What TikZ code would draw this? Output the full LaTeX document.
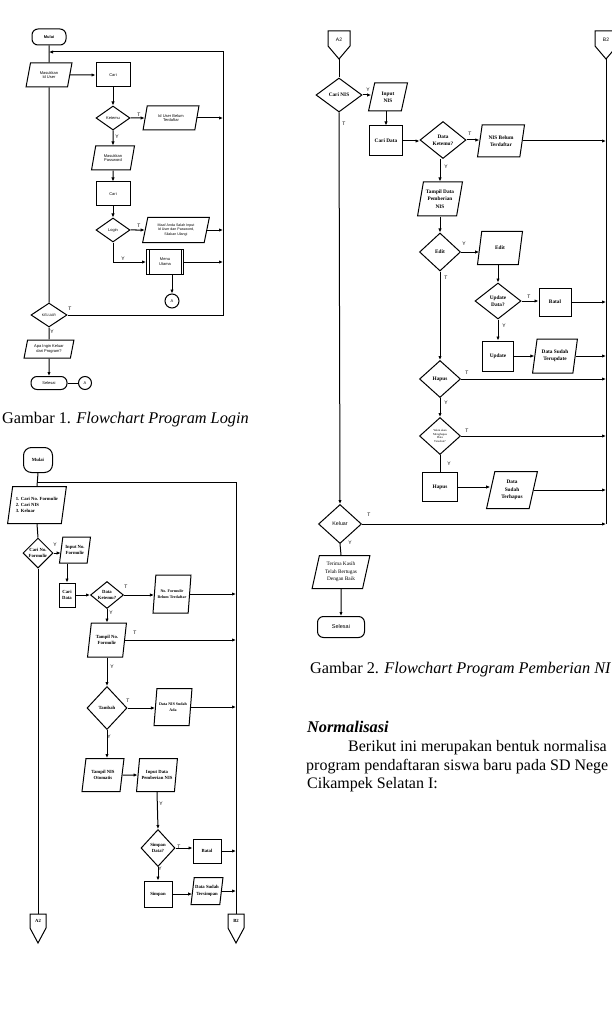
\documentclass[tikz,border=0pt]{standalone}
\usepackage{fontspec}
\setmainfont{Liberation Serif}
\newfontfamily\sansf{Liberation Sans}
\usetikzlibrary{shapes.geometric,arrows.meta,calc}
\newcommand{\fsA}{\sansf\fontsize{4}{4.8}\selectfont}
\newcommand{\fsB}{\bfseries\fontsize{4.7}{6.3}\selectfont}
\newcommand{\fsC}{\bfseries\fontsize{5.3}{7.3}\selectfont}
\newcommand{\fsT}{\fontsize{3}{3.6}\selectfont}
\newcommand{\fsL}{\sansf\fontsize{5}{6}\selectfont}
\newcommand{\fsBig}{\fontsize{16.3}{18.5}\selectfont}
\newcommand{\fsPar}{\fontsize{16}{18.5}\selectfont}
\begin{document}
\begin{tikzpicture}[x=1pt,y=-1pt,
  base/.style={draw, line width=1pt, inner sep=0.4pt, align=center},
  term/.style={base, rectangle, rounded corners=6pt},
  proc/.style={base, rectangle},
  dec/.style={base, diamond, aspect=1.2},
  io/.style={base, trapezium, trapezium left angle=75, trapezium right angle=105, trapezium stretches=true},
  conn/.style={base, circle},
  sz/.style 2 args={minimum width=#1, minimum height=#2},
  ln/.style={line width=1pt},
  arr/.style={line width=1pt, -{Latex[length=4pt,width=3.4pt]}},
  lbl/.style={font=\fsL, inner sep=0},
  txt/.style={font=\fsBig, inner sep=0, anchor=base west},
  ptxt/.style={font=\fsPar, inner sep=0, anchor=base west}]
\useasboundingbox[fill=white] (0,0) rectangle (612,1016);

% ================= Flowchart 1 =================
\begin{scope}[every node/.append style={font=\fsA}]
\node[term, sz={34}{16}, font=\fsA\bfseries] (f1mulai) at (49,37) {Mulai};
\node[io, sz={46}{24}] (f1in) at (49,75) {Masukkan\\Id User};
\node[proc, sz={34}{24}] (f1cari) at (113,75) {Cari};
\node[dec, sz={34}{24}] (f1ket) at (113,118) {Ketemu};
\node[io, sz={56}{24}] (f1blm) at (171,118) {Id User Belum\\Terdaftar};
\node[io, sz={43}{24}] (f1pw) at (113,158) {Masukkan\\Password};
\node[proc, sz={34}{24}] (f1cari2) at (113,194) {Cari};
\node[dec, sz={34}{24}] (f1login) at (113,230) {Login};
\node[io, sz={67}{25}, font=\sansf\fontsize{3.6}{4.3}\selectfont] (f1maaf) at (176,230) {Maaf Anda Salah Input\\Id User dan Password,\\Silakan Ulangi};
\node[proc, sz={37}{25}] (f1menu) at (165,262) {Menu\\Utama};
\node[conn, minimum size=14] (f1a) at (172,301) {A};
\node[dec, sz={36}{24}, font=\sansf\fontsize{3.5}{4}\selectfont] (f1kel) at (49,315) {KELUAR};
\node[io, sz={50}{18}] (f1apa) at (49,349) {Apa Ingin Keluar\\dari Program?};
\node[term, sz={36}{13}] (f1sel) at (49,383) {Selesai};
\node[conn, minimum size=13] (f1a2) at (85,383) {A};
\end{scope}
\coordinate (f1j) at (49,52);
\coordinate (f1rt) at (223,52);
\coordinate (f1rb) at (223,316);
\draw[ln] ([xshift=3pt]f1menu.north west) -- ([xshift=3pt]f1menu.south west);
\draw[ln] ([xshift=-3pt]f1menu.north east) -- ([xshift=-3pt]f1menu.south east);

\draw[ln] (f1mulai.south) -- (f1in.north);
\draw[arr] (f1kel.east) -- (f1kel.east -| f1rb) -- (f1rt) -- (f1j);
\draw[ln] (f1in.south) -- (f1kel.north);
\draw[arr] (f1in.east) -- (f1cari.west);
\draw[arr] (f1cari.south) -- (f1ket.north);
\draw[arr] (f1ket.east) -- (f1blm.west);
\draw[arr] (f1blm.east) -- (f1blm.east -| f1rt);
\draw[arr] (f1ket.south) -- (f1pw.north);
\draw[arr] (f1pw.south) -- (f1cari2.north);
\draw[arr] (f1cari2.south) -- (f1login.north);
\draw[arr] (f1login.east) -- (f1maaf.west);
\draw[arr] (f1maaf.east) -- (f1maaf.east -| f1rt);
\draw[arr] (f1login.south) |- (f1menu.west);
\draw[arr] (f1menu.east) -- (f1menu.east -| f1rt);
\draw[arr] (f1menu.south -| f1a) -- (f1a.north);
\draw[ln] (f1kel.south) -- (f1apa.north);
\draw[arr] (f1apa.south) -- (f1sel.north);
\draw[ln] (f1sel.east) -- (f1a2.west);
\node[lbl] (l1a) at (139,115) {T};
\node[lbl] (l1b) at (117,137) {Y};
\node[lbl] (l1c) at (139,226) {T};
\node[lbl] (l1d) at (123,259) {Y};
\node[lbl] (l1e) at (70,309) {T};
\node[lbl] (l1f) at (52,332) {Y};

\node[txt] (cap1) at (2,423) {Gambar 1. \textit{Flowchart Program Login}};

% ================= Flowchart 2 =================
\begin{scope}[every node/.append style={font=\fsB}]
\node[term, sz={29}{25}, rounded corners=8pt] (f2mulai) at (38,460) {Mulai};
\node[io, sz={59}{37}, align=left] (f2menu) at (37,505) {1. Cari No. Formulir\\2. Cari NIS\\3. Keluar};
\node[dec, sz={30}{30}, aspect=1] (f2cari) at (38,553) {Cari No.\\Formulir};
\node[io, sz={31}{26}] (f2inp) at (75,550) {Input No.\\Formulir};
\node[proc, sz={16}{24}] (f2cd) at (67,595) {Cari\\Data};
\node[dec, sz={33}{27}] (f2ket) at (107,595) {Data\\Ketemu?};
\node[io, sz={38}{38}, font=\bfseries\fontsize{4}{6}\selectfont] (f2blm) at (172,594) {No. Formulir\\Belum Terdaftar};
\node[io, sz={39}{34}] (f2tam) at (107,640) {Tampil No.\\Formulir};
\node[dec, sz={40}{43}, aspect=1] (f2tbh) at (107,708) {Tambah};
\node[io, sz={38}{37}, font=\bfseries\fontsize{4}{6}\selectfont] (f2ada) at (173,707) {Data NIS Sudah\\Ada};
\node[io, sz={42}{33}] (f2oto) at (103,775) {Tampil NIS\\Otomatis};
\node[io, sz={41}{33}] (f2ipn) at (157,775) {Input Data\\Pemberian NIS};
\node[dec, sz={34}{37}, aspect=1] (f2smp) at (158,848) {Simpan\\Data?};
\node[proc, sz={28}{24}] (f2btl) at (207,851) {Batal};
\node[proc, sz={28}{26}] (f2spn) at (158,894) {Simpan};
\node[io, sz={32}{27}] (f2tsp) at (207,891) {Data Sudah\\Tersimpan};
\node[inner sep=0] (f2a2) at (38,921) {A2};
\node[inner sep=0] (f2b2) at (236,921) {B2};
\end{scope}
\draw[ln] (30,914) -- (46,914) -- (46,928) -- (38,943) -- (30,928) -- cycle;
\draw[ln] (228,914) -- (244,914) -- (244,928) -- (236,943) -- (228,928) -- cycle;
\coordinate (f2a2t) at (38,914);
\coordinate (f2b2t) at (236,914);
\coordinate (f2j) at (38,482);
\coordinate (f2rt) at (236,482);

\draw[ln] (f2mulai.south) -- (f2menu.north);
\draw[ln] (f2j) -- (f2rt) -- (f2b2t);
\draw[ln] (f2menu.south) -- (f2cari.north);
\draw[ln] (f2cari.south) -- (f2a2t);
\draw[arr] (f2cari.east) -- (f2cari.east -| f2inp.west);
\draw[arr] (f2inp.south -| f2cd) -- (f2cd.north);
\draw[arr] (f2cd.east) -- (f2ket.west);
\draw[arr] (f2ket.east) -- (f2ket.east -| f2blm.west);
\draw[arr] (f2blm.east) -- (f2blm.east -| f2rt);
\draw[arr] (f2ket.south) -- (f2tam.north);
\draw[arr] (f2tam.east) -- (f2tam.east -| f2rt);
\draw[arr] (f2tam.south) -- (f2tbh.north);
\draw[arr] (f2tbh.east) -- (f2tbh.east -| f2ada.west);
\draw[arr] (f2ada.east) -- (f2ada.east -| f2rt);
\draw[arr] (f2tbh.south) -- (f2tbh.south |- f2oto.north);
\draw[arr] (f2oto.east) -- (f2ipn.west);
\draw[arr] (f2ipn.south) -- (f2smp.north);
\draw[arr] (f2smp.east) -- (f2smp.east -| f2btl.west);
\draw[arr] (f2btl.east) -- (f2btl.east -| f2rt);
\draw[arr] (f2smp.south) -- (f2spn.north);
\draw[arr] (f2spn.east) -- (f2spn.east -| f2tsp.west);
\draw[arr] (f2tsp.east) -- (f2tsp.east -| f2rt);
\node[lbl] (l2a) at (55,545) {Y};
\node[lbl] (l2b) at (126,587) {T};
\node[lbl] (l2c) at (111,613) {Y};
\node[lbl] (l2d) at (135,633) {T};
\node[lbl] (l2e) at (112,667) {Y};
\node[lbl] (l2f) at (128,701) {T};
\node[lbl] (l2g) at (109,737) {Y};
\node[lbl] (l2h) at (161,804) {Y};
\node[lbl] (l2i) at (179,847) {T};
\node[lbl] (l2j) at (160,869) {Y};

% ================= Flowchart 3 =================
\begin{scope}[every node/.append style={font=\fsC}]
\node[inner sep=0, font=\sansf\fontsize{5}{6}\selectfont] (f3a2) at (339,40) {A2};
\node[inner sep=0, font=\sansf\fontsize{5}{6}\selectfont] (f3b2) at (606,40) {B2};
\node[dec, sz={46}{34}] (f3cari) at (339,95) {Cari NIS};
\node[io, sz={39}{28}] (f3inp) at (388,97) {Input\\NIS};
\node[proc, sz={33}{30}] (f3cd) at (386,141) {Cari Data};
\node[dec, sz={46}{37}] (f3ket) at (443,140) {Data\\Ketemu?};
\node[io, sz={47}{32}] (f3blm) at (501,141) {NIS Belum\\Terdaftar};
\node[io, sz={45}{34}] (f3tam) at (440,199) {Tampil Data\\Pemberian\\NIS};
\node[dec, sz={41}{38}] (f3edit) at (440,252) {Edit};
\node[io, sz={45}{33}] (f3editp) at (500,248) {Edit};
\node[dec, sz={46}{36}] (f3upd) at (498,301) {Update\\Data?};
\node[proc, sz={32}{28}] (f3btl) at (555,302) {Batal};
\node[proc, sz={31}{30}] (f3updb) at (498,356) {Update};
\node[io, sz={45}{34}] (f3tru) at (555,356) {Data Sudah\\Terupdate};
\node[dec, sz={41}{37}] (f3hps) at (440,379) {Hapus};
\node[dec, sz={41}{37}, font=\fsT] (f3ykn) at (440,436) {Yakin akan\\Menghapus\\Data\\Tersebut?};
\node[proc, sz={35}{29}] (f3hpsb) at (440,487) {Hapus};
\node[io, sz={51}{37}] (f3trh) at (512,490) {Data\\Sudah\\Terhapus};
\node[dec, sz={43}{39}, font=\sansf\fontsize{5.3}{6}\selectfont] (f3kel) at (340,524) {Keluar};
\node[io, sz={58}{33}, font=\fontsize{5.3}{7.5}\selectfont] (f3trm) at (341,572) {Terima Kasih\\Telah Bertugas\\Dengan Baik};
\node[term, sz={47}{21}, font=\sansf\fontsize{5.5}{6}\selectfont] (f3sel) at (341,627) {Selesai};
\end{scope}
\draw[ln] (328,31) -- (350,31) -- (350,46) -- (339,59) -- (328,46) -- cycle;
\draw[ln] (595,31) -- (617,31) -- (617,46) -- (606,59) -- (595,46) -- cycle;
\coordinate (f3a2t) at (339,59);
\coordinate (f3b2t) at (606,59);
\coordinate (f3rb) at (606,524);

\draw[ln] (f3a2t) -- (f3cari.north);
\draw[ln] (f3b2t) -- (f3rb);
\draw[arr] (f3cari.east) -- (f3cari.east -| f3inp.west);
\draw[arr] (f3inp.south -| f3cd) -- (f3cd.north);
\draw[arr] (f3cd.east) -- (f3cd.east -| f3ket.west);
\draw[arr] (f3ket.east) -- (f3ket.east -| f3blm.west);
\draw[arr] (f3blm.east) -- (f3blm.east -| f3rb);
\draw[arr] (f3ket.south -| f3tam) -- (f3tam.north);
\draw[arr] (f3tam.south) -- (f3edit.north);
\draw[arr] (f3edit.east) -- (f3edit.east -| f3editp.west);
\draw[arr] (f3editp.south -| f3upd) -- (f3upd.north);
\draw[arr] (f3upd.east) -- (f3upd.east -| f3btl.west);
\draw[arr] (f3btl.east) -- (f3btl.east -| f3rb);
\draw[arr] (f3upd.south) -- (f3updb.north);
\draw[arr] (f3updb.east) -- (f3updb.east -| f3tru.west);
\draw[arr] (f3tru.east) -- (f3tru.east -| f3rb);
\draw[arr] (f3edit.south) -- (f3hps.north);
\draw[arr] (f3hps.east) -- (f3hps.east -| f3rb);
\draw[arr] (f3hps.south) -- (f3ykn.north);
\draw[arr] (f3ykn.east) -- (f3ykn.east -| f3rb);
\draw[ln] (f3ykn.south) -- (f3hpsb.north);
\draw[arr] (f3hpsb.east) -- (f3hpsb.east -| f3trh.west);
\draw[arr] (f3trh.east) -- (f3trh.east -| f3rb);
\draw[arr] (f3cari.south) -- (f3kel.north);
\draw[arr] (f3kel.east) -- (f3rb);
\draw[ln] (f3kel.south) -- (f3trm.north);
\draw[arr] (f3trm.south) -- (f3sel.north);
\node[lbl] (l3a) at (368,90) {Y};
\node[lbl] (l3b) at (344,124) {T};
\node[lbl] (l3c) at (470,134) {T};
\node[lbl] (l3d) at (446,167) {Y};
\node[lbl] (l3e) at (464,244) {Y};
\node[lbl] (l3f) at (529,297) {T};
\node[lbl] (l3g) at (504,326) {Y};
\node[lbl] (l3h) at (446,278) {T};
\node[lbl] (l3i) at (467,373) {T};
\node[lbl] (l3j) at (446,403) {Y};
\node[lbl] (l3k) at (467,431) {T};
\node[lbl] (l3l) at (449,464) {Y};
\node[lbl] (l3m) at (369,515) {T};
\node[lbl] (l3n) at (350,543) {Y};

% ================= Text =================
\node[txt] (cap2) at (310,673) {Gambar 2. \textit{Flowchart Program Pemberian NI}};
\node[txt] (head) at (307,732) {\textbf{\textit{Normalisasi}}};
\node[ptxt] (p1) at (348,751) {Berikut ini merupakan bentuk normalisa};
\node[ptxt] (p2) at (306,770) {program pendaftaran siswa baru pada SD Nege};
\node[ptxt] (p3) at (307,788) {Cikampek Selatan I:};
\end{tikzpicture}
\end{document}
